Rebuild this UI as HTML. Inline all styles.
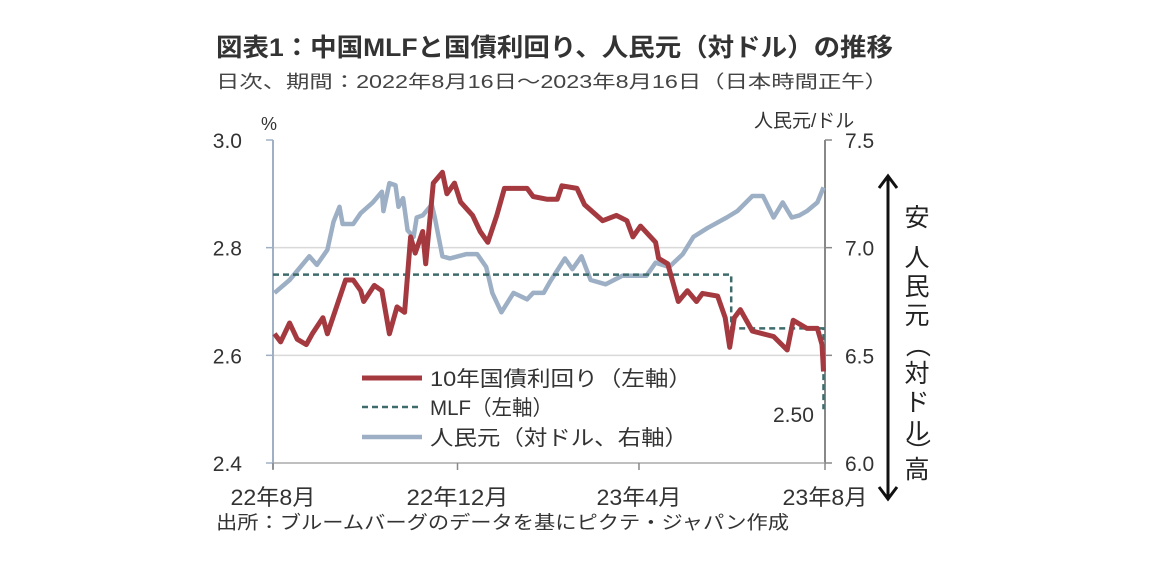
<!DOCTYPE html>
<html><head><meta charset="utf-8">
<style>
html,body{margin:0;padding:0;background:#fff;}
body{width:1152px;height:577px;overflow:hidden;font-family:"Liberation Sans","Noto Sans CJK JP",sans-serif;}
svg text{font-family:"Liberation Sans","Noto Sans CJK JP",sans-serif;}
</style></head>
<body>
<svg id="chart" width="1152" height="577" viewBox="0 0 1152 577" xmlns="http://www.w3.org/2000/svg">
<text x="216" y="56" font-size="25" font-weight="bold" fill="#333" textLength="677" lengthAdjust="spacingAndGlyphs">図表1：中国MLFと国債利回り、人民元（対ドル）の推移</text>
<text x="216" y="88" font-size="18" fill="#444" textLength="672" lengthAdjust="spacingAndGlyphs">日次、期間：2022年8月16日～2023年8月16日（日本時間正午）</text>
<text x="261" y="130" font-size="18" fill="#333">%</text>
<text x="754" y="127" font-size="19" fill="#333">人民元/ドル</text>
<g id="grid"></g>
<g id="axes"></g>
<g id="series"></g>
<g id="legend">
 <line x1="362" y1="378" x2="422" y2="378" stroke="#a43a40" stroke-width="5"/>
 <text x="430" y="386" font-size="21" fill="#333" textLength="262" lengthAdjust="spacingAndGlyphs">10年国債利回り（左軸）</text>
 <line x1="362" y1="407" x2="422" y2="407" stroke="#3e6b6b" stroke-width="2.5" stroke-dasharray="6,4"/>
 <text x="430" y="415" font-size="21" fill="#333" textLength="123" lengthAdjust="spacingAndGlyphs">MLF（左軸）</text>
 <line x1="362" y1="437" x2="422" y2="437" stroke="#9dafc4" stroke-width="4.5"/>
 <text x="430" y="445" font-size="21" fill="#333" textLength="258" lengthAdjust="spacingAndGlyphs">人民元（対ドル、右軸）</text>
</g>
<text x="773" y="422" font-size="21" fill="#333">2.50</text>
<g>
 <line x1="888" y1="177" x2="888" y2="498" stroke="#111" stroke-width="3"/>
 <polyline points="879,188 888,176 897,188" fill="none" stroke="#111" stroke-width="3"/>
 <polyline points="879,487 888,499 897,487" fill="none" stroke="#111" stroke-width="3"/>
</g>
<g font-size="25" fill="#222" text-anchor="middle">
 <text x="917" y="226">安</text>
 <text x="917" y="266">人</text>
 <text x="917" y="295">民</text>
 <text x="917" y="324">元</text>
 <text x="917" y="353" transform="rotate(90 917 345)">（</text>
 <text x="917" y="382">対</text>
 <text x="917" y="411">ド</text>
 <text x="917" y="440">ル</text>
 <text x="917" y="459" transform="rotate(90 917 451)">）</text>
 <text x="917" y="478">高</text>
</g>
<text x="216" y="529" font-size="18.5" fill="#333" textLength="573" lengthAdjust="spacingAndGlyphs">出所：ブルームバーグのデータを基にピクテ・ジャパン作成</text>
</svg>
<script>
const leftTicks=[3.0,2.8,2.6,2.4];
const leftTickLabels=["3.0","2.8","2.6","2.4"];
const rightTicks=[7.5,7.0,6.5,6.0];
const rightTickLabels=["7.5","7.0","6.5","6.0"];
const xTickDays=[0,122,242,365];
const xTickLabels=["22年8月","22年12月","23年4月","23年8月"];
const bondDays=[1,5,11,16,22,26,33,36,42,48,53,58,60,67,72,77,82,87,91,94,99,101,106,112,115,120,124,132,137,142,148,153,168,172,181,188,191,201,206,218,227,234,238,243,253,255,261,264,268,274,280,284,294,299,302,305,309,317,331,340,344,353,360,363,364];
const bondYield=[2.64,2.625,2.66,2.63,2.62,2.64,2.67,2.64,2.69,2.74,2.74,2.72,2.70,2.73,2.72,2.64,2.69,2.68,2.82,2.79,2.83,2.77,2.92,2.94,2.90,2.92,2.885,2.86,2.83,2.81,2.86,2.91,2.91,2.895,2.89,2.89,2.915,2.91,2.88,2.85,2.86,2.85,2.82,2.84,2.81,2.78,2.77,2.74,2.70,2.72,2.70,2.715,2.71,2.67,2.615,2.67,2.685,2.645,2.635,2.61,2.665,2.65,2.65,2.62,2.57];
const mlfDays=[0,303,303,364,364];
const mlfRate=[2.75,2.75,2.65,2.65,2.50];
const cnyDays=[1,11,24,29,36,40,44,46,53,58,66,72,73,77,81,83,86,89,93,95,99,105,107,112,117,128,135,141,145,151,159,168,172,179,183,193,198,204,210,220,231,247,253,262,271,278,287,300,307,317,324,331,337,343,348,353,360,364];
const cnyRate=[6.79,6.85,6.96,6.92,6.99,7.12,7.19,7.11,7.11,7.16,7.21,7.26,7.17,7.30,7.29,7.19,7.23,7.08,7.05,7.14,7.15,7.20,7.14,6.96,6.95,6.97,6.97,6.91,6.79,6.70,6.79,6.76,6.79,6.79,6.84,6.95,6.90,6.96,6.85,6.83,6.87,6.87,6.93,6.91,6.97,7.05,7.09,7.14,7.17,7.24,7.24,7.14,7.21,7.14,7.15,7.17,7.21,7.28];

const X0=273,X1=825,Y0=140,Y1=463;
const xS=d=>X0+(d/365)*(X1-X0);
const yL=v=>Y0+(3.0-v)/0.6*(Y1-Y0);
const yR=v=>Y0+(7.5-v)/1.5*(Y1-Y0);
const NS="http://www.w3.org/2000/svg";
function mk(tag,attrs,parent){const e=document.createElementNS(NS,tag);for(const k in attrs)e.setAttribute(k,attrs[k]);parent.appendChild(e);return e;}
const grid=document.getElementById('grid'),axes=document.getElementById('axes'),series=document.getElementById('series');
leftTicks.forEach((v,i)=>{
  if(v>2.4&&v<3.0){const g=mk('line',{x1:X0,x2:X1,y1:yL(v),y2:yL(v),stroke:'#d9d9d9','stroke-width':1.5},grid);
  
  }
  const t=mk('text',{x:X0-31,y:yL(v)+8,'font-size':21,fill:'#333','text-anchor':'end'},axes);t.textContent=leftTickLabels[i];
  
  
  mk('line',{x1:X0-7,x2:X0,y1:yL(v),y2:yL(v),stroke:'#9fb0c4','stroke-width':1.5},axes);
});
rightTicks.forEach((v,i)=>{
  const t=mk('text',{x:X1+20,y:yR(v)+8,'font-size':21,fill:'#333'},axes);t.textContent=rightTickLabels[i];
  
  
  mk('line',{x1:X1,x2:X1+7,y1:yR(v),y2:yR(v),stroke:'#888','stroke-width':1.5},axes);
});
mk('line',{x1:X0,x2:X0,y1:Y0,y2:Y1+6,stroke:'#9fb0c4','stroke-width':2},axes);
mk('line',{x1:X1,x2:X1,y1:Y0,y2:Y1,stroke:'#888','stroke-width':2},axes);
mk('line',{x1:X0,x2:X1,y1:Y1,y2:Y1,stroke:'#aaa','stroke-width':1.5},axes);
xTickDays.forEach((d,i)=>{
  mk('line',{x1:xS(d),x2:xS(d),y1:Y1,y2:Y1+7,stroke:'#888','stroke-width':1.5},axes);
  const w=xTickLabels[i].length*17;
  const t=mk('text',{x:xS(d),y:Y1+42,'font-size':22,fill:'#333','text-anchor':'middle',textLength:w,lengthAdjust:'spacingAndGlyphs'},axes);t.textContent=xTickLabels[i];
  
  
});
function path(days,vals,ys){return days.map((d,i)=>(i?'L':'M')+xS(d).toFixed(1)+','+ys(vals[i]).toFixed(1)).join(' ');}
const cny=mk('path',{d:path(cnyDays,cnyRate,yR),fill:'none',stroke:'#9dafc4','stroke-width':4.5,'stroke-linejoin':'round'},series);


const mlf=mk('path',{d:path(mlfDays,mlfRate,yL),fill:'none',stroke:'#3e6b6b','stroke-width':2.5,'stroke-dasharray':'6,4'},series);


const bond=mk('path',{d:path(bondDays,bondYield,yL),fill:'none',stroke:'#a43a40','stroke-width':5,'stroke-linejoin':'round'},series);


</script>
</body></html>
